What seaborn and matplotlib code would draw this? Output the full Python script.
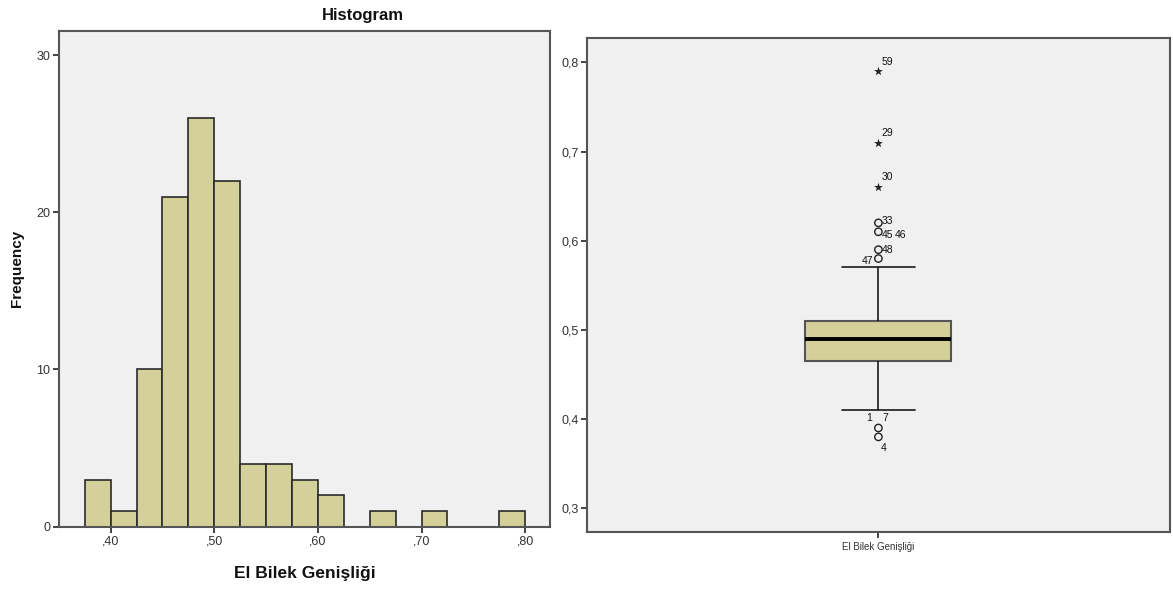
import numpy as np
import pandas as pd
import matplotlib
matplotlib.use("Agg")
import matplotlib.pyplot as plt
from matplotlib.ticker import FuncFormatter
import seaborn as sns

# Histogram: bins of width 0.025 and their frequencies
bin_edges = [0.375, 0.400, 0.425, 0.450, 0.475, 0.500, 0.525, 0.550, 0.575,
             0.600, 0.625, 0.650, 0.675, 0.700, 0.725, 0.750, 0.775, 0.800]
hist_counts = [3, 1, 10, 21, 26, 22, 4, 4, 3, 2, 0, 1, 0, 1, 0, 0, 1]

# Boxplot: measured values (0.01 resolution) and how many cases have each
box_values = [0.38, 0.39, 0.41, 0.43, 0.44, 0.45, 0.46, 0.47, 0.48, 0.49,
              0.50, 0.51, 0.52, 0.53, 0.54, 0.55, 0.56, 0.57, 0.58, 0.59,
              0.61, 0.62, 0.66, 0.71, 0.79]
box_counts = [1, 2, 1, 4, 6, 5, 6, 10, 12, 14,
              9, 8, 5, 2, 2, 1, 1, 2, 1, 1,
              2, 1, 1, 1, 1]

# case numbers printed next to outliers
case_values = [0.79, 0.71, 0.66, 0.62, 0.61, 0.61, 0.59, 0.58, 0.39, 0.39, 0.38]
case_ids = ["59", "29", "30", "33", "45", "46", "48", "47", "1", "7", "4"]

var_name = "El Bilek Genişliği"

BAR = "#D4D09A"
BG = "#F0F0F0"
FRAME = "#555555"
TXT = "#333333"

sns.set_theme(style="ticks")
plt.rcParams["font.family"] = ["Liberation Sans", "DejaVu Sans"]

fig = plt.figure(figsize=(11.73, 5.90), dpi=100)
ax1 = fig.add_axes([0.0502, 0.1073, 0.4187, 0.8407])
ax2 = fig.add_axes([0.5002, 0.0978, 0.4973, 0.8373])

# ---- histogram ----
mids = [(a + b) / 2 for a, b in zip(bin_edges[:-1], bin_edges[1:])]
sns.histplot(x=mids, weights=hist_counts, bins=bin_edges, ax=ax1,
             color=BAR, alpha=1, edgecolor="#2a2a2a", linewidth=1.2)
ax1.set_facecolor(BG)
ax1.set_xlim(0.350, 0.824)
ax1.set_ylim(0, 31.55)
ax1.set_xticks([0.40, 0.50, 0.60, 0.70, 0.80])
ax1.set_yticks([0, 10, 20, 30])
ax1.xaxis.set_major_formatter(FuncFormatter(lambda v, p: f"{v:.2f}".lstrip("0").replace(".", ",")))
ax1.set_xlabel(var_name, fontsize=12.5, fontweight="bold", labelpad=14, color="#111111")
ax1.set_ylabel("Frequency", fontsize=11, fontweight="bold", color="#111111")
ax1.yaxis.set_label_coords(-0.072, 0.52)
fig.text(363 / 1173, 1 - 15.5 / 590, "Histogram", ha="center", va="center",
         fontsize=12, fontweight="bold", color="#111111")

# ---- boxplot ----
df = pd.DataFrame({"value": np.repeat(box_values, box_counts)})
df["var"] = var_name
sns.boxplot(data=df, x="var", y="value", ax=ax2, width=0.25, color=BAR,
            saturation=1, showfliers=False, whis=1.5, linecolor="#1a1a1a",
            linewidth=1.2,
            boxprops={"edgecolor": FRAME, "linewidth": 1.5},
            medianprops={"color": "black", "linewidth": 2.8})
ax2.set_facecolor(BG)
ax2.set_xlim(-0.5, 0.5)
ax2.set_ylim(0.273, 0.827)
ax2.set_yticks([0.3, 0.4, 0.5, 0.6, 0.7, 0.8])
ax2.yaxis.set_major_formatter(FuncFormatter(lambda v, p: f"{v:.1f}".replace(".", ",")))
ax2.set_xlabel("")
ax2.set_ylabel("")

# outliers: circles beyond 1.5 IQR, stars beyond 3 IQR
vals = df["value"].to_numpy()
q1, q3 = np.percentile(vals, [25, 75])
iqr = q3 - q1
out = np.unique(vals[(vals < q1 - 1.5 * iqr) | (vals > q3 + 1.5 * iqr)])
extreme = out[(out < q1 - 3 * iqr) | (out > q3 + 3 * iqr)]
mild = out[~np.isin(out, extreme)]
ax2.scatter(np.zeros(len(mild)), mild, s=28, facecolors="none", edgecolors="#222222",
            linewidths=1.0, zorder=5)
ax2.scatter(np.zeros(len(extreme)), extreme, s=45, marker="*", color="#222222",
            linewidths=0, zorder=5)

# label offsets in points (dx, dy, ha)
offsets = [(2, 7, "left"), (2, 7, "left"), (2, 7, "left"), (2.5, 1, "left"),
           (2.5, -2, "left"), (11.5, -2, "left"), (2.5, 0, "left"), (-3.8, -1.5, "right"),
           (-4.3, 7.4, "right"), (3, 7.4, "left"), (1.8, -8, "left")]
for v, cid, (dx, dy, ha) in zip(case_values, case_ids, offsets):
    ax2.annotate(cid, (0, v), xytext=(dx, dy), textcoords="offset points",
                 ha=ha, va="center", fontsize=7.5, color="#111111")

for ax in (ax1, ax2):
    for s in ax.spines.values():
        s.set_visible(True)
        s.set_color(FRAME)
        s.set_linewidth(1.5)
    ax.tick_params(direction="out", length=4, width=1.2, color="#222222",
                   labelcolor=TXT, labelsize=9, pad=2)
ax2.tick_params(axis="x", labelsize=7, length=4, pad=3)

fig.savefig("out.png", dpi=100)
